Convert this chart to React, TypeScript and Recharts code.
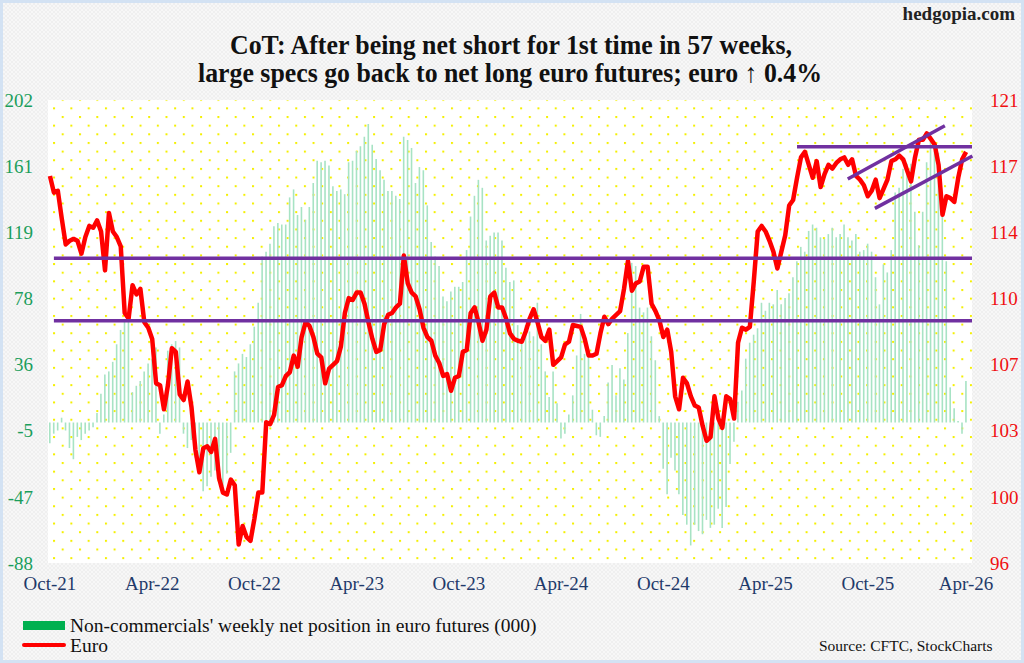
import { ComposedChart, Bar, Line, XAxis, YAxis, CartesianGrid, ReferenceLine } from "recharts";

// weekly CFTC net position of non-commercials in euro futures (000), Oct-21 .. Mar-26
const netPosition = [
  -13, -7, -5, 3, -5, -16, -23, -9, -11, -7, -5, -3, 6, 18, 30, 32, 38, 49, 58, 64,
  66, 19, 23, 26, 32, 37, 40, 47, -7, 5, 45, 49, 51, 47, -7, -16, -11, -22, -28, -43,
  -40, -34, -30, -35, -40, -32, -19, 32, 37, 43, 41, 49, 60, 75, 104, 107, 112, 123, 125, 124,
  124, 141, 146, 130, 135, 127, 135, 150, 164, 163, 164, 161, 148, 145, 146, 143, 163, 164, 170, 173,
  179, 187, 174, 165, 158, 152, 145, 145, 142, 140, 179, 177, 172, 150, 160, 158, 136, 113, 104, 98,
  79, 76, 82, 85, 85, 88, 108, 129, 142, 152, 147, 114, 117, 119, 119, 114, 97, 88, 89, 61,
  53, 61, 57, 54, 75, 49, 32, 16, 32, 12, -10, -7, 5, 17, 42, 68, 43, 42, 8, -8,
  -9, 4, 25, 36, 17, 34, 27, 56, 100, 98, 72, 69, 72, 54, 39, 4, -29, -45, -22, -30,
  -45, -58, -64, -77, -64, -68, -70, -61, -66, -64, -54, -66, -53, -26, -12, 13, 20, 40, 50, 55,
  59, 75, 70, 75, 74, 83, 74, 78, 81, 91, 101, 110, 107, 120, 124, 122, 116, 115, 118, 122,
  116, 118, 124, 116, 114, 118, 107, 108, 112, 107, 91, 74, 99, 94, 108, 144, 147, 159, 162, 162,
  132, 111, 132, 163, 176, 170, 169, 133, 101, 22, 9, 1, -7, 26,
];

// weekly euro futures close
const euro = [
  116.9, 116.0, 116.1, 114.6, 113.2, 113.4, 113.5, 113.4, 112.7, 113.6, 114.2, 114.1, 114.5, 113.9, 111.8, 114.9, 113.9, 113.6, 113.1, 109.5,
  109.2, 111.0, 110.5, 110.8, 109.0, 108.7, 108.1, 105.7, 105.6, 104.3, 105.6, 107.6, 107.4, 105.1, 104.8, 105.8, 104.4, 102.1, 100.9, 102.2,
  102.3, 102.0, 102.7, 100.6, 99.8, 99.7, 100.5, 100.2, 97.0, 98.0, 97.4, 97.2, 98.4, 99.8, 99.8, 103.6, 103.5, 104.0, 105.5, 105.6,
  106.1, 106.3, 107.2, 106.6, 108.2, 109.0, 108.8, 108.2, 107.3, 107.1, 105.7, 106.5, 106.7, 106.9, 107.7, 109.5, 110.3, 110.2, 110.6, 110.6,
  110.0, 109.0, 108.1, 107.4, 107.5, 108.9, 109.4, 109.5, 109.8, 110.0, 112.6, 111.1, 110.6, 110.4, 109.7, 108.7, 108.2, 108.0, 107.2, 106.8,
  106.1, 106.2, 105.3, 106.0, 106.1, 107.4, 107.5, 109.5, 109.8, 109.0, 108.0, 108.6, 110.4, 110.6, 109.8, 109.8, 109.2, 108.4, 108.1, 108.0,
  107.95, 108.5, 109.2, 109.7, 109.0, 108.2, 108.0, 108.6, 106.7, 106.9, 107.1, 107.8, 107.95, 108.85, 108.8, 108.75, 108.1, 107.2, 107.2, 107.3,
  108.4, 109.3, 108.9, 109.2, 109.4, 109.6, 110.8, 112.3, 110.7, 111.1, 111.2, 112.0, 112.0, 110.0, 109.6, 109.1, 108.2, 108.6, 107.4, 105.0,
  104.3, 106.0, 105.7, 105.0, 104.5, 104.4, 103.4, 102.6, 102.8, 105.0, 103.8, 103.3, 105.0, 104.85, 103.8, 107.9, 108.7, 108.6, 108.75, 111.2,
  113.9, 114.2, 113.9, 113.4, 112.8, 111.9, 112.8, 113.7, 115.3, 115.6, 116.8, 117.9, 118.2, 117.5, 116.8, 117.7, 116.3, 117.0, 117.5, 117.3,
  117.6, 117.8, 117.9, 117.5, 117.8, 116.9, 116.7, 116.4, 115.8, 116.1, 116.7, 115.7, 116.2, 116.7, 117.7, 117.8, 118.0, 117.8, 117.2, 116.6,
  117.9, 118.85, 118.85, 119.2, 118.9, 118.6, 117.5, 114.8, 115.8, 115.7, 115.5, 116.8, 117.8, 118.2,
];

const xTickWeeks = [0, 26, 52, 78, 104, 130, 156, 182, 208, 233];
const xTickLabels = ["Oct-21", "Apr-22", "Oct-22", "Apr-23", "Oct-23", "Apr-24", "Oct-24", "Apr-25", "Oct-25", "Apr-26"];

const leftDomain = [-88, 202];
const leftTickLabels = ["-88", "-47", "-5", "36", "78", "119", "161", "202"];
const rightDomain = [96, 121];
const rightTickLabels = ["96", "100", "103", "107", "110", "114", "117", "121"];

// hand drawn support / resistance on the euro
const longLevels = [112.45, 109.08];
const topLevel = { from: 190, to: 234.5, value: 118.48 };
const upperChannel = [{ x: 202.9, y: 116.73 }, { x: 227.6, y: 119.61 }];
const lowerChannel = [{ x: 209.8, y: 115.15 }, { x: 234.6, y: 117.98 }];

const evenTicks = (domain: number[], n: number) =>
  Array.from({ length: n }, (_, k) => domain[0] + (k * (domain[1] - domain[0])) / (n - 1));

const leftTicks = evenTicks(leftDomain, leftTickLabels.length);
const rightTicks = evenTicks(rightDomain, rightTickLabels.length);

const data = euro.map((v, i) => ({ i, euro: v, net: netPosition[i] }));

const FONT = "'Liberation Serif', 'Times New Roman', serif";
const PURPLE = "#7030a0";

export default function App() {
  return (
    <div
      style={{
        position: "absolute",
        left: 0,
        top: 0,
        width: 1024,
        height: 663,
        boxSizing: "border-box",
        border: "3px solid #d3e2f3",
        background: "repeating-conic-gradient(#efefef 0 25%, #f7f7f7 0 50%) 0 0 / 4px 4px",
        fontFamily: FONT,
        overflow: "hidden",
      }}
    >
      <svg width={0} height={0} style={{ position: "absolute" }}>
        <defs>
          <pattern id="dotgrid" patternUnits="userSpaceOnUse" x={61.7} y={98.7} width={17.3} height={17.3}>
            <rect width={17.3} height={17.3} fill="#ffffff" />
            <rect x={0} y={0} width={2} height={2} fill="#f4f000" />
            <rect x={8.65} y={8.65} width={2} height={2} fill="#f4f000" />
          </pattern>
        </defs>
      </svg>

      <div style={{ position: "absolute", left: -3, top: -3 }}>
        <ComposedChart width={1024} height={663} data={data} margin={{ top: 100, right: 0, bottom: 70, left: 0 }}>
          <CartesianGrid horizontal={false} vertical={false} fill="url(#dotgrid)" stroke="none" />
          <XAxis
            dataKey="i"
            type="number"
            domain={[-0.5, 234.5]}
            ticks={xTickWeeks}
            tickFormatter={(v: number) => xTickLabels[xTickWeeks.indexOf(v)] ?? ""}
            axisLine={false}
            tickLine={false}
            tickSize={6}
            tickMargin={8}
            height={30}
            interval={0}
            tick={{ fill: "#1f3a6a", fontSize: 19, fontFamily: FONT }}
          />
          <YAxis
            yAxisId="left"
            orientation="left"
            domain={leftDomain}
            ticks={leftTicks}
            tickFormatter={(v: number) => leftTickLabels[leftTicks.indexOf(v)] ?? ""}
            axisLine={false}
            tickLine={false}
            tickSize={6}
            tickMargin={9}
            width={48}
            interval={0}
            tick={{ fill: "#1b9e5c", fontSize: 19, fontFamily: FONT }}
          />
          <YAxis
            yAxisId="right"
            orientation="right"
            domain={rightDomain}
            ticks={rightTicks}
            tickFormatter={(v: number) => rightTickLabels[rightTicks.indexOf(v)] ?? ""}
            axisLine={false}
            tickLine={false}
            tickSize={6}
            tickMargin={12}
            width={52}
            interval={0}
            tick={{ fill: "#f01010", fontSize: 19, fontFamily: FONT, textAnchor: "start" }}
          />
          <Bar yAxisId="left" dataKey="net" fill="#a7e3c4" barSize={1.6} isAnimationActive={false} />
          <Line
            yAxisId="right"
            dataKey="euro"
            type="linear"
            stroke="#ff0000"
            strokeWidth={4.5}
            strokeLinejoin="round"
            dot={false}
            activeDot={false}
            isAnimationActive={false}
          />
          {longLevels.map((v) => (
            <ReferenceLine
              key={v}
              yAxisId="right"
              segment={[{ x: 1, y: v }, { x: 234.5, y: v }]}
              stroke={PURPLE}
              strokeWidth={3.5}
              ifOverflow="visible"
            />
          ))}
          <ReferenceLine
            yAxisId="right"
            segment={[{ x: topLevel.from, y: topLevel.value }, { x: topLevel.to, y: topLevel.value }]}
            stroke={PURPLE}
            strokeWidth={3.5}
            ifOverflow="visible"
          />
          <ReferenceLine yAxisId="right" segment={upperChannel} stroke={PURPLE} strokeWidth={3.5} ifOverflow="visible" />
          <ReferenceLine yAxisId="right" segment={lowerChannel} stroke={PURPLE} strokeWidth={3.5} ifOverflow="visible" />
        </ComposedChart>
      </div>

      <svg
        width={1024}
        height={663}
        style={{ position: "absolute", left: -3, top: -3, pointerEvents: "none" }}
        fontFamily={FONT}
      >
        <text x={1015} y={20} textAnchor="end" fontSize={19} fontWeight="bold" fill="#222">
          hedgopia.com
        </text>
        <text x={511} y={54} textAnchor="middle" fontSize={27} fontWeight="bold" fill="#111" textLength={562} lengthAdjust="spacingAndGlyphs">
          CoT: After being net short for 1st time in 57 weeks,
        </text>
        <text x={510} y={82} textAnchor="middle" fontSize={27} fontWeight="bold" fill="#111" textLength={624} lengthAdjust="spacingAndGlyphs">
          large specs go back to net long euro futures; euro ↑ 0.4%
        </text>

        <rect x={23} y={621} width={42} height={9} fill="#00b050" />
        <text x={70} y={632} fontSize={19.5} fill="#111">
          Non-commercials' weekly net position in euro futures (000)
        </text>
        <line x1={24} y1={645} x2={64} y2={645} stroke="#ff0000" strokeWidth={4} strokeLinecap="round" />
        <text x={70} y={652} fontSize={19.5} fill="#111">
          Euro
        </text>
        <text x={819} y={651} fontSize={15.5} fill="#111">
          Source: CFTC, StockCharts
        </text>
      </svg>
    </div>
  );
}
